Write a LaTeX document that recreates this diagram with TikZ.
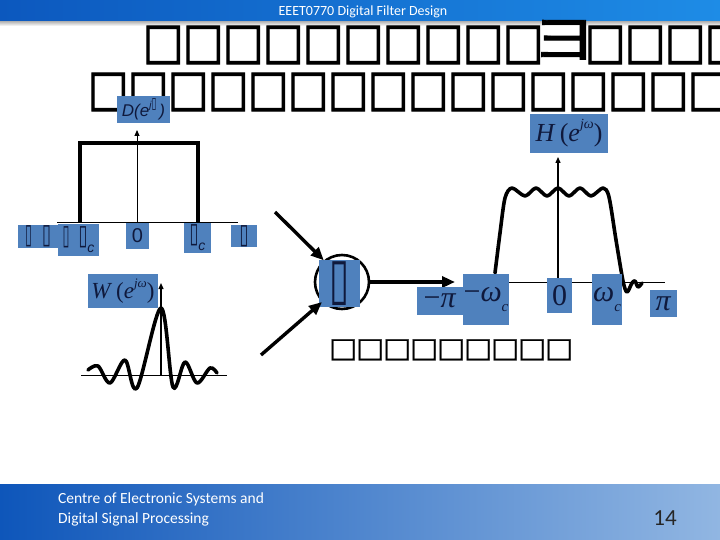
\documentclass[tikz,border=0pt]{standalone}
\usepackage{fontspec}
\usepackage{graphicx}
\usetikzlibrary{arrows.meta}
\setmainfont{Liberation Serif}
\newfontfamily\carl{Carlito}
\newfontfamily\arial{Liberation Sans}
\newfontfamily\dvs{DejaVu Sans}
\newfontfamily\dvsB[FakeBold=2.2]{DejaVu Sans}
\newfontfamily\dvsM[FakeBold=1.0]{DejaVu Sans}
\newfontfamily\cjkB[FakeBold=1.6]{Noto Sans CJK JP}
\definecolor{hdrL}{RGB}{12,88,190}
\definecolor{hdrR}{RGB}{30,140,230}
\definecolor{ftL}{RGB}{14,86,186}
\definecolor{ftR}{RGB}{145,182,226}
\definecolor{labblue}{RGB}{79,129,189}
\definecolor{navy}{RGB}{15,25,60}
\newcommand\tofuU{\scalebox{0.7}[1.55]{\dvs ▯}}
\newcommand\tofuI{\scalebox{0.9}[1.55]{\dvs\itshape ▯}}
\newcommand\tb{\makebox[40pt]{\scalebox{0.86}[1]{□}}}
\newcommand\tbyo{\makebox[42pt]{\scalebox{1.3}[1.08]{\cjkB\fontsize{50}{50}\selectfont ヨ}}}
\newcommand\cb{\makebox[27pt]{\scalebox{1.03}[0.95]{□}}}
\tikzset{
  lab/.style={fill=labblue, inner sep=0pt, text=navy},
  thickcurve/.style={line width=3.6pt, line join=round, line cap=round},
  axisline/.style={line width=0.9pt},
  bigarrow/.style={line width=3.4pt, -{Triangle[length=13pt,width=11pt]}},
  titlefont/.style={font=\dvsB\fontsize{50}{50}\selectfont},
}
\begin{document}
\begin{tikzpicture}[x=1pt,y=-1pt]
\useasboundingbox (0,0) rectangle (720,540);
% header
\shade[left color=hdrL, right color=hdrR] (0,0) rectangle (720,22);
\shade[top color=black!25, bottom color=white] (0,22) rectangle (720,26);
\node[text=white, font=\carl\fontsize{14}{16}\selectfont] (hdr) at (363,12) {EEET0770 Digital Filter Design};
% footer
\shade[left color=ftL, right color=ftR] (0,484) rectangle (720,540);
\node[anchor=base west, text=white, font=\carl\fontsize{15.5}{18}\selectfont, inner sep=0pt] (ft1) at (58,503) {Centre of Electronic Systems and};
\node[anchor=base west, text=white, font=\carl\fontsize{15.5}{18}\selectfont, inner sep=0pt] (ft2) at (58,523) {Digital Signal Processing};
\node[anchor=base, text=black!85, font=\carl\fontsize{23}{26}\selectfont, inner sep=0pt] (pg) at (665,525) {14};
% title (tofu)
\node[anchor=base west, inner sep=0pt, titlefont] (t1) at (143,58) {\tb\tb\tb\tb\tb\tb\tb\tb\tb\tb\tbyo\tb\tb\tb\tb};
\node[anchor=base west, inner sep=0pt, titlefont] (t2) at (88,105) {\tb\tb\tb\tb\tb\tb\tb\tb\tb\tb\tb\tb\tb\tb\tb\tb};
% ---------- D plot
\coordinate (dO) at (137,222);
\coordinate (dT) at (137,130);
\coordinate (dL) at (57,222);
\coordinate (dR) at (238,222);
\draw[axisline] (dL) -- (dR);
\draw[axisline, -{Triangle[length=6pt,width=5pt]}] (dO) -- (dT);
\coordinate (r1) at (80,222);
\coordinate (r2) at (80,143);
\coordinate (r3) at (198,143);
\coordinate (r4) at (198,222);
\draw[line width=4pt, line join=miter] (r1) -- (r2) -- (r3) -- (r4);
\node[lab, minimum width=53pt, minimum height=27pt, font=\arial\itshape\fontsize{17}{19}\selectfont] (dlab) at (143.5,109.5) {D(e\raisebox{0.45em}{\fontsize{10}{10}\selectfont j\tofuI}\,)};
\node[lab, minimum width=40pt, minimum height=23pt, font=\fontsize{18}{20}\selectfont] (lmpi) at (38,236.5) {\tofuU\hspace{10pt}\tofuI};
\node[lab, minimum width=41pt, minimum height=32pt, font=\fontsize{18}{20}\selectfont] (lmwc) at (78.5,240) {\tofuU\hspace{9pt}\tofuI\raisebox{-0.45em}{\arial\itshape\fontsize{14}{14}\selectfont c}};
\node[lab, minimum width=23pt, minimum height=26pt, font=\arial\fontsize{20}{22}\selectfont] (l0) at (137.5,236) {0};
\node[lab, minimum width=27pt, minimum height=30pt, font=\fontsize{18}{20}\selectfont] (lwc) at (197.5,238) {\tofuI\raisebox{-0.45em}{\arial\itshape\fontsize{14}{14}\selectfont c}};
\node[lab, minimum width=26pt, minimum height=22pt, font=\fontsize{18}{20}\selectfont] (lpi) at (244,236) {\tofuI};
% ---------- W plot
\coordinate (wO) at (161,375);
\coordinate (wT) at (161,283);
\coordinate (wL) at (81,375);
\coordinate (wR) at (227,375);
\draw[axisline] (wL) -- (wR);
\draw[line width=1.3pt, -{Triangle[length=6pt,width=5pt]}] (wO) -- (wT);
\draw[thickcurve] plot[smooth, tension=0.55] coordinates {(88,370) (98,366) (110,383) (125,360) (137,388) (161,308) (173,387) (185,362) (197,383) (210,368) (217,373)};
\node[lab, minimum width=70pt, minimum height=34pt, font=\fontsize{23}{25}\selectfont] (wlab) at (123,291) {\textit{W}\,(\textit{e}\raisebox{0.5em}{\fontsize{13}{13}\selectfont\textit{jω}})};
% ---------- multiplier
\node[circle, draw, line width=2.6pt, minimum size=54pt, inner sep=0pt] (mul) at (342,282) {};
\node[lab, minimum width=41pt, minimum height=47pt] (mlab) at (339.5,283.5) {\scalebox{1.3}[2.05]{\dvs\fontsize{28}{30}\selectfont ▯}};
\coordinate (a1s) at (275,212);
\coordinate (a2s) at (261,355);
\draw[bigarrow] (a1s) -- (mul.130);
\draw[bigarrow] (a2s) -- (mul.225);
\coordinate (a3e) at (455,282);
\draw[bigarrow] (mul.east) -- (a3e);
% ---------- H plot
\coordinate (hO) at (558,282);
\coordinate (hT) at (558,157);
\coordinate (hL) at (463,282);
\coordinate (hR) at (665,282);
\draw[axisline] (hL) -- (hR);
\draw[line width=1.3pt, -{Triangle[length=6pt,width=5pt]}] (hO) -- (hT);
\draw[thickcurve] plot[smooth, tension=0.5] coordinates {(495,273) (500,233) (505,198) (512,188) (525,196) (536,188) (547,196) (558,188) (569,196) (580,188) (591,196) (603,188) (609,197) (616,240) (623,281) (627,292) (632,283) (635,281) (638,287) (642,283)};
\node[lab, minimum width=78pt, minimum height=39pt, font=\fontsize{26}{28}\selectfont] (hlab) at (569,133.5) {\textit{H}\,(\textit{e}\raisebox{0.5em}{\fontsize{14}{14}\selectfont\textit{jω}})};
\node[lab, minimum width=46pt, minimum height=28pt, font=\fontsize{30}{32}\selectfont] (hmpi) at (440,301) {−\textit{π}};
\node[lab, minimum width=46pt, minimum height=51pt, font=\fontsize{30}{32}\selectfont] (hmwc) at (486,299.5) {−\textit{ω}\raisebox{-0.35em}{\fontsize{15}{15}\selectfont\textit{c}}};
\node[lab, minimum width=25pt, minimum height=35pt, font=\fontsize{30}{32}\selectfont] (h0) at (559.5,295.5) {0};
\node[lab, minimum width=30pt, minimum height=51pt, font=\fontsize{30}{32}\selectfont] (hwc) at (607,299.5) {\textit{ω}\raisebox{-0.35em}{\fontsize{15}{15}\selectfont\textit{c}}};
\node[lab, minimum width=27pt, minimum height=27pt, font=\fontsize{30}{32}\selectfont] (hpi) at (663.5,303.5) {\textit{π}};
% bottom tofu caption
\node[anchor=base west, inner sep=0pt, font=\dvsM\fontsize{29}{30}\selectfont] (cap) at (329.5,357) {\cb\cb\cb\cb\cb\cb\cb\cb\cb};
\end{tikzpicture}
\end{document}
